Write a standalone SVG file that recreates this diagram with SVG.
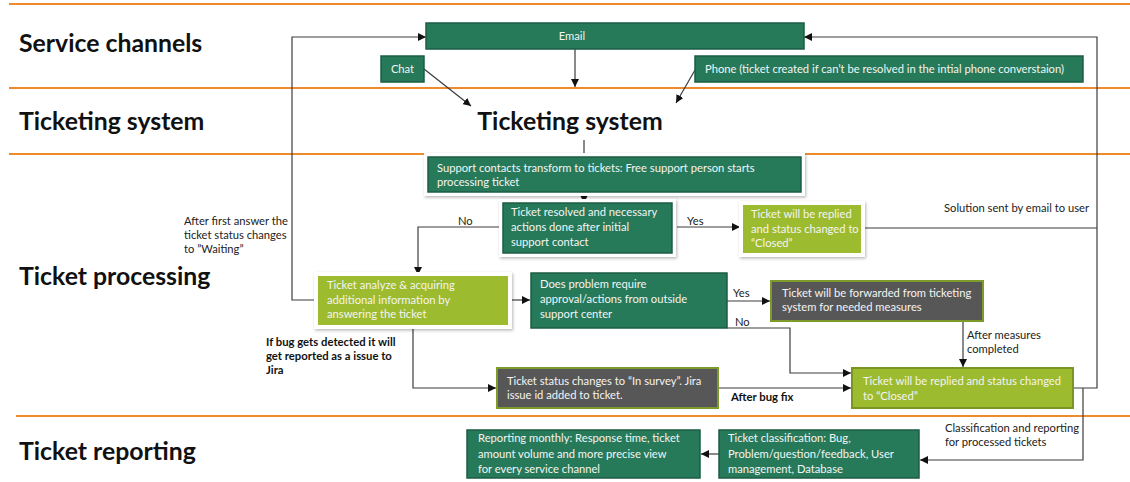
<svg xmlns="http://www.w3.org/2000/svg" width="1130" height="482" viewBox="0 0 1130 482">
  <style>
    .lane { stroke: #ed8a2c; stroke-width: 2; }
    .lanelbl { font-family: Lato, "Liberation Sans", sans-serif; font-weight: bold; font-size: 24.8px; fill: #111; }
    .t { font-family: Lato, "Liberation Sans", sans-serif; font-size: 11.2px; fill: #f4f4f4; }
    .lbl { font-family: Lato, "Liberation Sans", sans-serif; font-size: 11.2px; fill: #222; }
    .lblb { font-family: Lato, "Liberation Sans", sans-serif; font-size: 11.3px; font-weight: bold; fill: #111; }
    .dg { fill: #267a5a; stroke: #1d5c44; stroke-width: 1.5; }
    .lg { fill: #9dbb2e; }
    .lgb { fill: #9dbb2e; stroke: #7b9525; stroke-width: 2; }
    .gr { fill: #575757; stroke: #7e9a2b; stroke-width: 2; }
    .halo { fill: #ffffff; filter: url(#sh); }
    .conn path, .conn line { fill: none; stroke: #3c3c3c; stroke-width: 1.2; }
    .arr { marker-end: url(#ah); }
  </style>
  <defs>
    <marker id="ah" viewBox="0 0 10 10" refX="10" refY="5" markerWidth="8" markerHeight="8" orient="auto" markerUnits="userSpaceOnUse">
      <path d="M0,0 L10,5 L0,10 z" fill="#111"/>
    </marker>
    <filter id="sh" x="-10%" y="-20%" width="120%" height="150%">
      <feDropShadow dx="1" dy="1.5" stdDeviation="1.5" flood-color="#000" flood-opacity="0.28"/>
    </filter>
  </defs>

  <rect width="1130" height="482" fill="#ffffff"/>

  <!-- swim lane separators -->
  <g id="lanes">
    <line class="lane" x1="9" y1="4" x2="1130" y2="4"/>
    <line class="lane" x1="9" y1="88" x2="1130" y2="88"/>
    <line class="lane" x1="9" y1="154" x2="1130" y2="154"/>
    <line class="lane" x1="16" y1="416" x2="1130" y2="416"/>
    <text class="lanelbl" x="19" y="52">Service channels</text>
    <text class="lanelbl" x="19" y="130">Ticketing system</text>
    <text class="lanelbl" x="19" y="285">Ticket processing</text>
    <text class="lanelbl" x="19" y="460">Ticket reporting</text>
  </g>

  <!-- connectors -->
  <g class="conn" id="connectors">
    <line class="arr" x1="575" y1="49" x2="575" y2="87"/>
    <line class="arr" x1="424" y1="69" x2="471" y2="106"/>
    <line class="arr" x1="695" y1="70" x2="676" y2="103"/>
    <line x1="584" y1="140" x2="584" y2="155"/>
    <!-- waiting loop back to Email -->
    <path class="arr" d="M318,300 H292 V37 H426"/>
    <!-- solved loops back to Email -->
    <path d="M862,228 H1097"/>
    <path class="arr" d="M1073,388 H1097 V37 H804"/>
    <line class="arr" x1="584" y1="192" x2="584" y2="203"/>
    <path class="arr" d="M500,227 H418 V275"/>
    <line class="arr" x1="677" y1="227" x2="740" y2="227"/>
    <line class="arr" x1="508" y1="300" x2="530" y2="300"/>
    <line class="arr" x1="727" y1="301" x2="770" y2="301"/>
    <path class="arr" d="M727,328 H790 V373 H851"/>
    <line class="arr" x1="963" y1="321" x2="963" y2="367"/>
    <path class="arr" d="M413,326 V388 H496"/>
    <line class="arr" x1="718" y1="388" x2="851" y2="388"/>
    <path class="arr" d="M1083,388 V460 H920"/>
    <line class="arr" x1="719" y1="454" x2="701" y2="454"/>
  </g>

  <!-- service channels -->
  <g id="email">
    <rect class="dg" x="426" y="23" width="378" height="26"/>
    <text class="t" x="572" y="40" text-anchor="middle">Email</text>
  </g>
  <g id="chat">
    <rect class="dg" x="381" y="56" width="43" height="26"/>
    <text class="t" x="402.5" y="73" text-anchor="middle">Chat</text>
  </g>
  <g id="phone">
    <rect class="dg" x="695" y="56" width="388" height="26"/>
    <text class="t" x="705" y="73">Phone (ticket created if can’t be resolved in the intial phone converstaion)</text>
  </g>

  <g id="ticketing-system">
    <text class="lanelbl" x="570" y="130" text-anchor="middle">Ticketing system</text>
  </g>

  <!-- ticket processing -->
  <g id="support-contacts">
    <rect class="halo" x="424" y="153" width="381" height="43"/>
    <rect class="dg" x="428" y="157" width="373" height="35" stroke="none"/>
    <text class="t" x="437" y="172">Support contacts transform to tickets: Free support person starts</text>
    <text class="t" x="437" y="186">processing ticket</text>
  </g>
  <g id="resolved">
    <rect class="halo" x="499" y="199" width="177" height="58"/>
    <rect class="dg" x="503" y="203" width="169" height="50" stroke="none"/>
    <text class="t" x="511" y="216">Ticket resolved and necessary</text>
    <text class="t" x="511" y="231">actions done after initial</text>
    <text class="t" x="511" y="246">support contact</text>
  </g>
  <g id="closed-first">
    <rect class="halo" x="739" y="201" width="126" height="56"/>
    <rect class="lg" x="743" y="205" width="118" height="48"/>
    <text class="t" x="751" y="218">Ticket will be replied</text>
    <text class="t" x="751" y="233">and status changed to</text>
    <text class="t" x="751" y="247">“Closed”</text>
  </g>
  <g id="analyze">
    <rect class="halo" x="314" y="272" width="198" height="57"/>
    <rect class="lg" x="318" y="276" width="190" height="49"/>
    <text class="t" x="327" y="289">Ticket analyze &amp; acquiring</text>
    <text class="t" x="327" y="304">additional information by</text>
    <text class="t" x="327" y="318">answering the ticket</text>
  </g>
  <g id="outside-approval">
    <rect class="dg" x="531" y="273" width="196" height="55"/>
    <text class="t" x="540" y="288">Does problem require</text>
    <text class="t" x="540" y="303">approval/actions from outside</text>
    <text class="t" x="540" y="318">support center</text>
  </g>
  <g id="forwarded">
    <rect class="gr" x="771" y="281" width="212" height="40"/>
    <text class="t" x="782" y="297">Ticket will be forwarded from ticketing</text>
    <text class="t" x="782" y="311">system for needed measures</text>
  </g>
  <g id="in-survey">
    <rect class="gr" x="497" y="368" width="221" height="40"/>
    <text class="t" x="507" y="385">Ticket status changes to “In survey”. Jira</text>
    <text class="t" x="507" y="399">issue id added to ticket.</text>
  </g>
  <g id="closed-final">
    <rect class="lgb" x="852" y="368" width="221" height="40"/>
    <text class="t" x="863" y="385">Ticket will be replied and status changed</text>
    <text class="t" x="863" y="400">to “Closed”</text>
  </g>

  <!-- reporting -->
  <g id="classification">
    <rect class="dg" x="719" y="430" width="200" height="48"/>
    <text class="t" x="728" y="442">Ticket classification: Bug,</text>
    <text class="t" x="728" y="458">Problem/question/feedback, User</text>
    <text class="t" x="728" y="473">management, Database</text>
  </g>
  <g id="monthly-report">
    <rect class="dg" x="467" y="430" width="233" height="48"/>
    <text class="t" x="478" y="442">Reporting monthly: Response time, ticket</text>
    <text class="t" x="478" y="458">amount volume and more precise view</text>
    <text class="t" x="478" y="473">for every service channel</text>
  </g>

  <!-- free labels -->
  <g id="labels">
    <text class="lbl" x="184" y="225">After first answer the</text>
    <text class="lbl" x="184" y="239">ticket status changes</text>
    <text class="lbl" x="184" y="253">to ”Waiting”</text>
    <text class="lbl" x="458" y="225">No</text>
    <text class="lbl" x="687" y="225">Yes</text>
    <text class="lbl" x="944" y="212">Solution sent by email to user</text>
    <text class="lbl" x="733" y="297">Yes</text>
    <text class="lbl" x="735" y="326">No</text>
    <text class="lbl" x="967" y="339">After measures</text>
    <text class="lbl" x="967" y="353">completed</text>
    <text class="lblb" x="266" y="346">If bug gets detected it will</text>
    <text class="lblb" x="266" y="360">get reported as a issue to</text>
    <text class="lblb" x="266" y="374">Jira</text>
    <text class="lblb" x="731" y="401">After bug fix</text>
    <text class="lbl" x="945" y="432">Classification and reporting</text>
    <text class="lbl" x="945" y="446">for processed tickets</text>
  </g>
</svg>
